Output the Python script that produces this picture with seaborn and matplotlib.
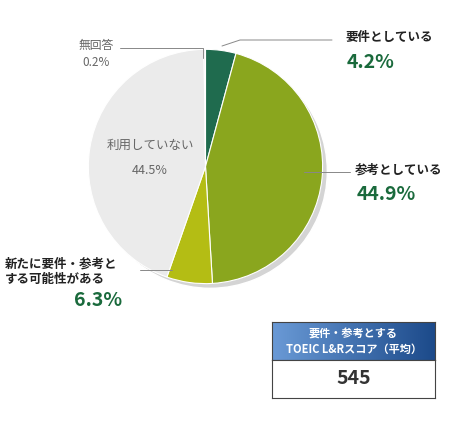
import matplotlib.pyplot as plt
import matplotlib.lines as mlines
from matplotlib.colors import LinearSegmentedColormap
import numpy as np
import seaborn as sns

sns.set_theme(style="white")
plt.rcParams['font.family'] = ['Noto Sans CJK JP', 'DejaVu Sans']

labels = ['要件としている', '参考としている', '新たに要件・参考と\nする可能性がある', '利用していない', '無回答']
values = [4.2, 44.9, 6.3, 44.5, 0.2]
colors = ['#1f6b4e', '#8aa61e', '#b4bd14', '#ebebeb', '#d9d9d9']
score = 545

W, H = 450, 425
fig = plt.figure(figsize=(W / 100, H / 100), dpi=100)
fig.patch.set_facecolor('white')

def px(x, y):
    return x / W, 1 - y / H

cx, cy, r = 209, 170, 123
ax = fig.add_axes([(cx - r) / W, 1 - (cy + r) / H, 2 * r / W, 2 * r / H])
# shadow
ax.pie([1], colors=['#d4d4d4'], radius=1.0, center=(0.04, -0.04))
ax.pie(values, colors=colors, startangle=90, counterclock=False,
       wedgeprops=dict(linewidth=0.8, edgecolor='white'))
ax.set_xlim(-1.02, 1.08)
ax.set_ylim(-1.08, 1.02)
ax.set_aspect('equal')
ax.axis('off')

green = '#1a6a3c'
dark = '#222222'
grey = '#666666'

def line(xs, ys):
    fx = [x / W for x in xs]
    fy = [1 - y / H for y in ys]
    fig.add_artist(mlines.Line2D(fx, fy, color='#888888', lw=0.7))

line([222, 240, 332], [46, 40, 40])
line([304, 350], [172, 172])
line([172, 140], [270, 270])
line([120, 203, 203], [48, 48, 58])

fig.text(*px(345, 38), labels[0], fontsize=9, fontweight='bold', color=dark, va='center')
fig.text(*px(347, 63), f'{values[0]}%', fontsize=14, fontweight='bold', color=green, va='center')
fig.text(*px(355, 170), labels[1], fontsize=9, fontweight='bold', color=dark, va='center')
fig.text(*px(357, 195), f'{values[1]}%', fontsize=14, fontweight='bold', color=green, va='center')
fig.text(*px(5, 272), labels[2], fontsize=9, fontweight='bold', color=dark, va='center', linespacing=1.2)
fig.text(*px(122, 300), f'{values[2]}%', fontsize=14, fontweight='bold', color=green, va='center', ha='right')
fig.text(*px(150, 145), labels[3], fontsize=9, color=grey, va='center', ha='center')
fig.text(*px(150, 170), f'{values[3]}%', fontsize=9, color=grey, va='center', ha='center')
fig.text(*px(96, 45), labels[4], fontsize=8.5, color=grey, va='center', ha='center')
fig.text(*px(96, 63), f'{values[4]}%', fontsize=8.5, color=grey, va='center', ha='center')

# score box
bx0, bx1, by0, by1, by2 = 272, 435, 322, 360, 398
hax = fig.add_axes([bx0 / W, 1 - by1 / H, (bx1 - bx0) / W, (by1 - by0) / H])
grad = np.linspace(0, 1, 256).reshape(1, -1)
cmap = LinearSegmentedColormap.from_list('g', ['#6a9ad6', '#1c4a8a'])
hax.imshow(grad, aspect='auto', cmap=cmap, extent=[0, 1, 0, 1])
hax.text(0.5, 0.72, '要件・参考とする', color='white', fontsize=8, fontweight='bold', ha='center', va='center')
hax.text(0.5, 0.28, 'TOEIC L&Rスコア（平均）', color='white', fontsize=8, fontweight='bold', ha='center', va='center')
hax.set_xticks([]); hax.set_yticks([])
for s in hax.spines.values():
    s.set_color('#444444'); s.set_linewidth(0.8)

bax = fig.add_axes([bx0 / W, 1 - by2 / H, (bx1 - bx0) / W, (by2 - by1) / H])
bax.set_xticks([]); bax.set_yticks([])
bax.text(0.5, 0.5, str(score), fontsize=14, fontweight='bold', color='#333333', ha='center', va='center')
for s in bax.spines.values():
    s.set_color('#444444'); s.set_linewidth(0.8)

fig.savefig('out.png', dpi=100, facecolor='white')
